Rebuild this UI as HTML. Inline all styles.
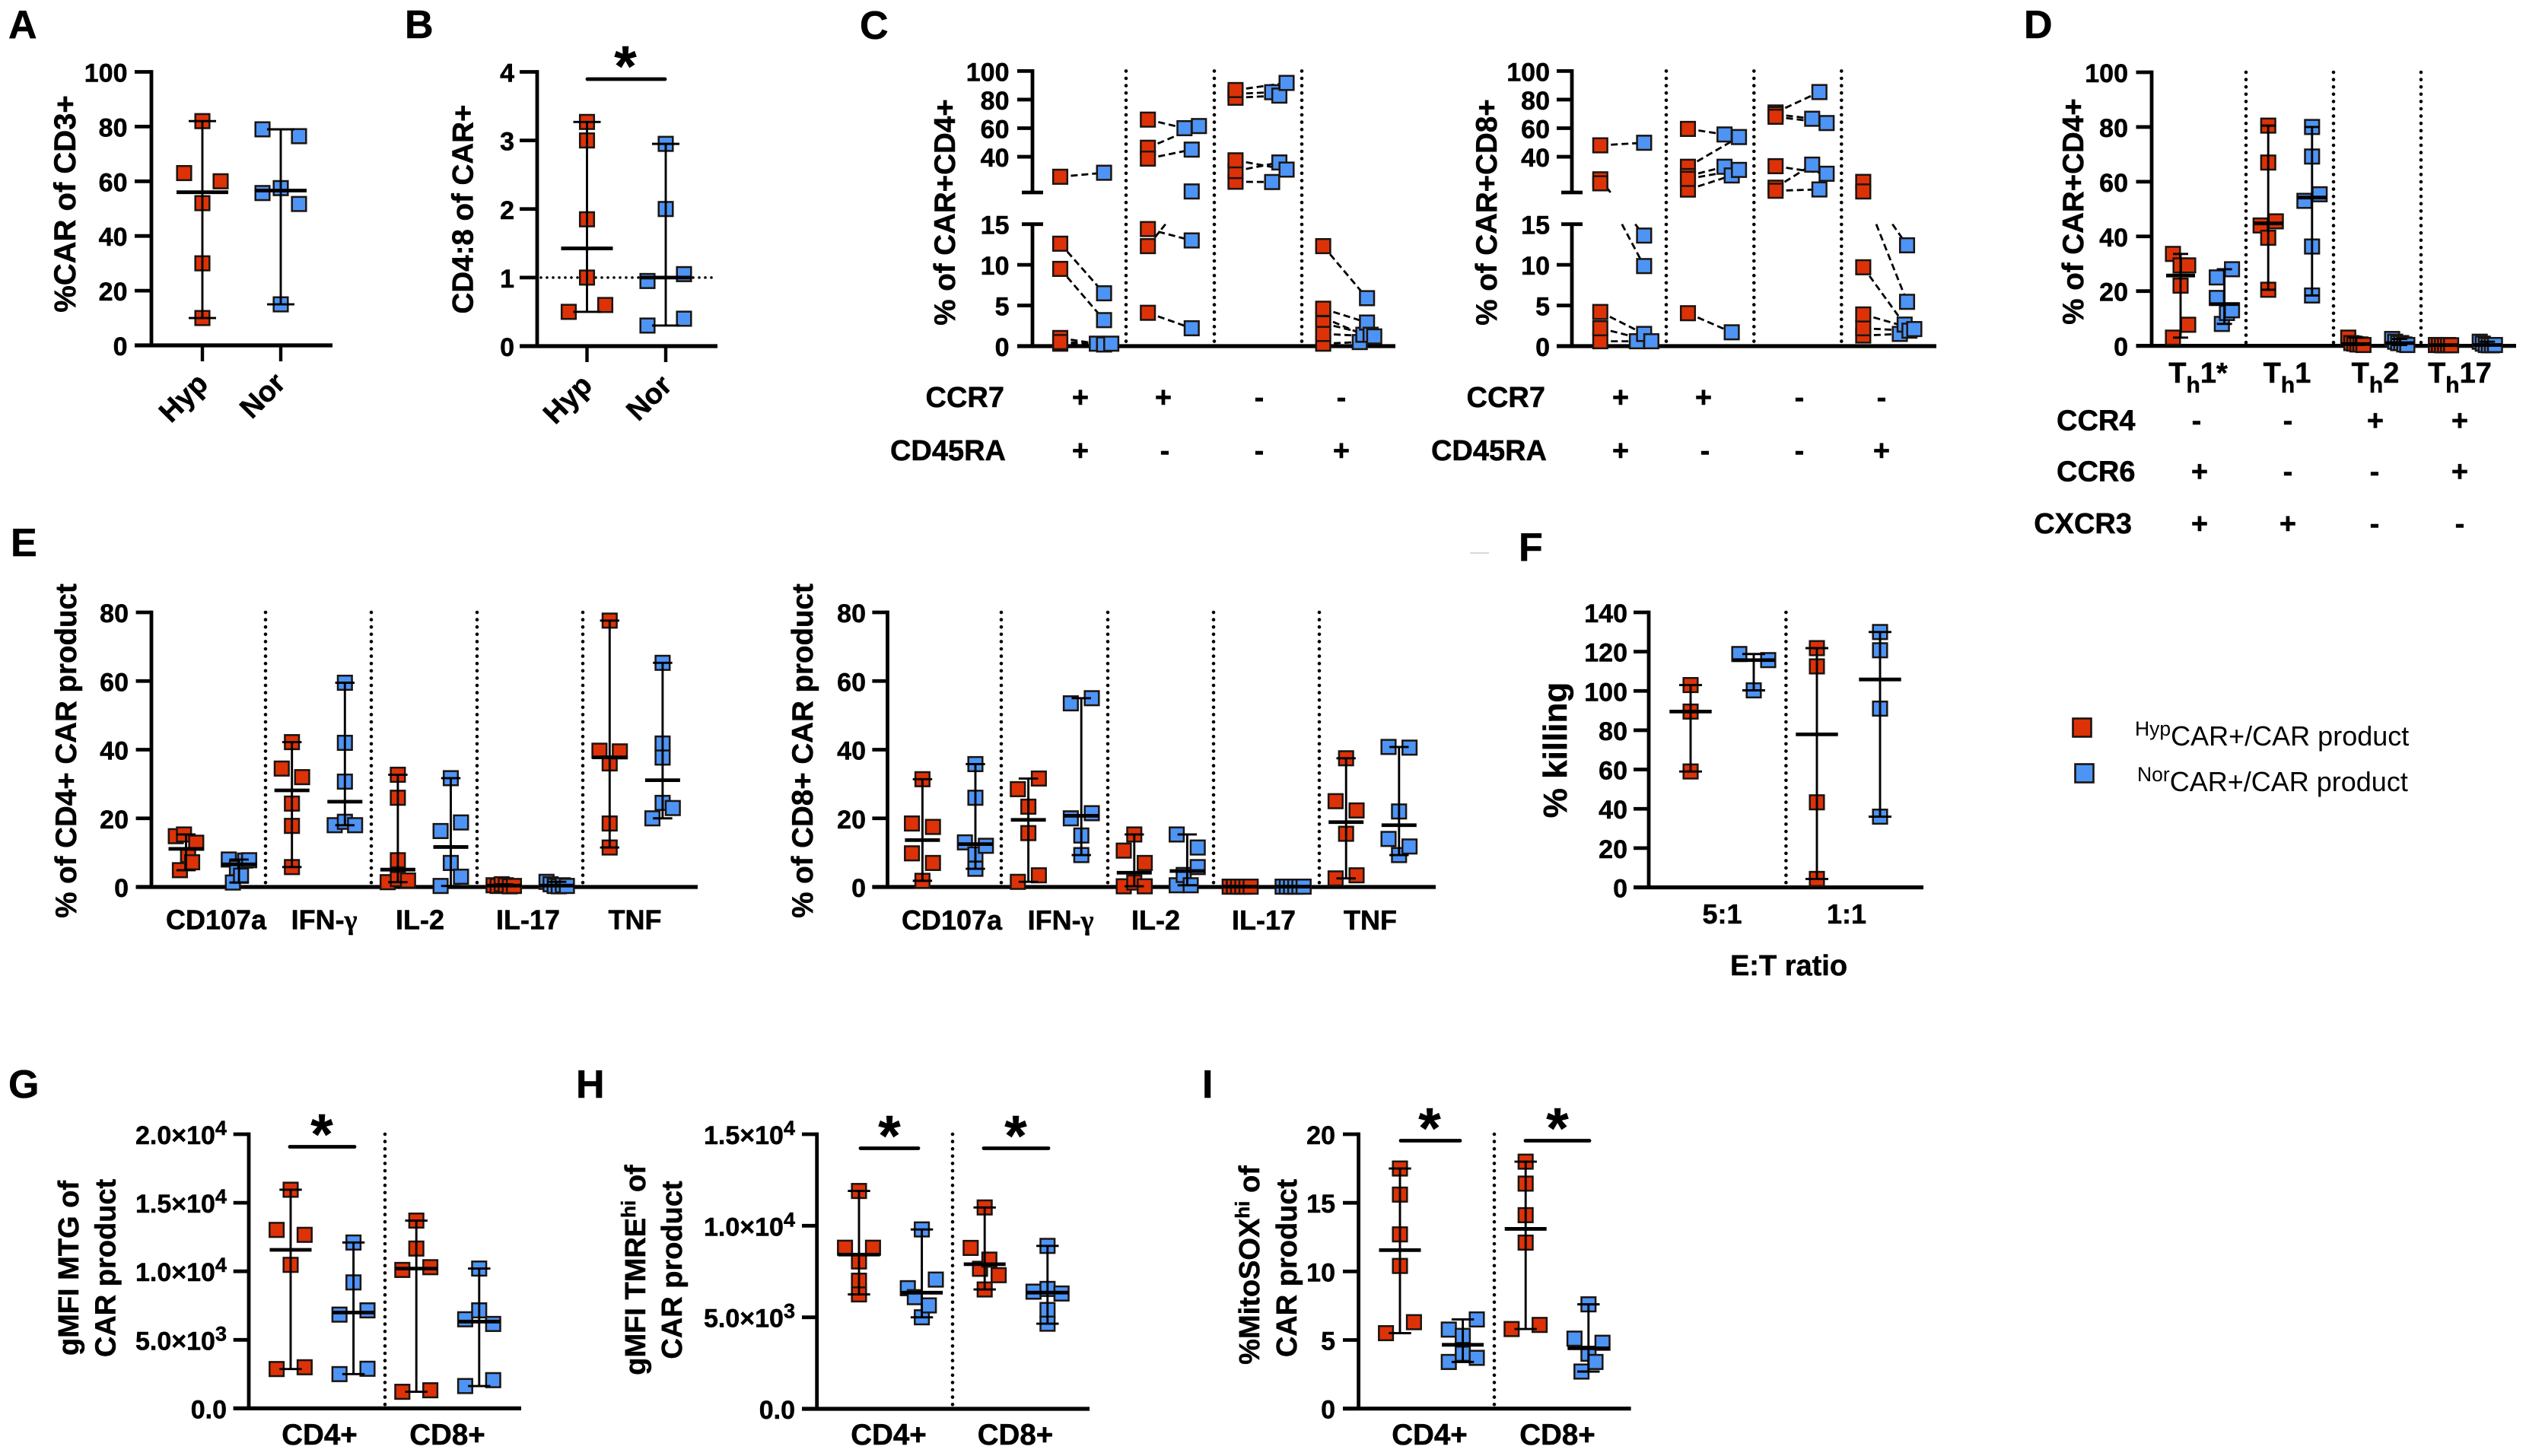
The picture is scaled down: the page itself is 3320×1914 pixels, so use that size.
<!DOCTYPE html>
<html lang="en">
<head>
<meta charset="utf-8">
<title>CAR T cell phenotype and function panels</title>
<style>
html,body{margin:0;padding:0;background:#fff;}
svg{display:block;}
text{font-family:"Liberation Sans",sans-serif;fill:#000;font-weight:700;stroke:#000;stroke-width:.5px;}
.letter{font-size:52px;}
.ytitle{font-size:38.5px;text-anchor:middle;}
.cat{font-size:36px;text-anchor:middle;}
.row{font-size:38px;text-anchor:end;}
.sym{font-size:38px;text-anchor:middle;}
.star{font-size:75px;text-anchor:middle;}
.sig{stroke:#000;stroke-width:4.8;stroke-linecap:round;}
.legend{font-weight:400;font-size:36px;stroke:none;}
.legend tspan.sup{font-size:26.5px;}
</style>
</head>
<body>
<svg id="figure" width="3320" height="1914" viewBox="0 0 3320 1914">
<rect x="0" y="0" width="3320" height="1914" fill="#fff"/>

<g id="panel-a">
<text class="letter" x="11" y="50">A</text>
<text class="ytitle" style="font-size:40px" transform="translate(99 268) rotate(-90)">%CAR of CD3+</text>
<text class="cat" style="font-size:38px" transform="translate(250 532) rotate(-45)">Hyp</text>
<text class="cat" style="font-size:38px" transform="translate(354 529) rotate(-45)">Nor</text>
</g>

<g id="panel-b">
<text class="letter" x="532" y="50">B</text>
<text class="ytitle" transform="translate(621.5 275) rotate(-90)">CD4:8 of CAR+</text>
<text class="cat" style="font-size:38px" transform="translate(755 534) rotate(-45)">Hyp</text>
<text class="cat" style="font-size:38px" transform="translate(862 532) rotate(-45)">Nor</text>
<line class="sig" x1="772" y1="104" x2="874" y2="104"/>
<text class="star" x="822" y="113">*</text>
</g>

<g id="panel-c1">
<text class="letter" x="1130" y="51">C</text>
<text class="ytitle" transform="translate(1255 279) rotate(-90)">% of CAR+CD4+</text>
<text class="row" x="1320" y="535">CCR7</text>
<text class="row" x="1322" y="605">CD45RA</text>
<text class="sym" x="1420" y="535">+</text>
<text class="sym" x="1529" y="535">+</text>
<text class="sym" x="1655" y="535">-</text>
<text class="sym" x="1763" y="535">-</text>
<text class="sym" x="1420" y="605">+</text>
<text class="sym" x="1531" y="605">-</text>
<text class="sym" x="1655" y="605">-</text>
<text class="sym" x="1763" y="605">+</text>
</g>

<g id="panel-c2">
<text class="ytitle" transform="translate(1967 279) rotate(-90)">% of CAR+CD8+</text>
<text class="row" x="2031" y="535">CCR7</text>
<text class="row" x="2033" y="605">CD45RA</text>
<text class="sym" x="2130" y="535">+</text>
<text class="sym" x="2239" y="535">+</text>
<text class="sym" x="2365" y="535">-</text>
<text class="sym" x="2473" y="535">-</text>
<text class="sym" x="2130" y="605">+</text>
<text class="sym" x="2241" y="605">-</text>
<text class="sym" x="2365" y="605">-</text>
<text class="sym" x="2473" y="605">+</text>
</g>

<g id="panel-d">
<text class="letter" x="2660" y="50">D</text>
<text class="ytitle" transform="translate(2738 278) rotate(-90)">% of CAR+CD4+</text>
<text class="sym" x="2889" y="503">T<tspan font-size="30" dy="13">h</tspan><tspan dy="-13">1*</tspan></text>
<text class="sym" x="3006" y="503">T<tspan font-size="30" dy="13">h</tspan><tspan dy="-13">1</tspan></text>
<text class="sym" x="3122" y="503">T<tspan font-size="30" dy="13">h</tspan><tspan dy="-13">2</tspan></text>
<text class="sym" x="3233" y="503">T<tspan font-size="30" dy="13">h</tspan><tspan dy="-13">17</tspan></text>
<text class="row" x="2806.5" y="565.5">CCR4</text>
<text class="row" x="2806.5" y="632.5">CCR6</text>
<text class="row" x="2802" y="701">CXCR3</text>
<text class="sym" x="2887" y="565.5">-</text>
<text class="sym" x="3007" y="565.5">-</text>
<text class="sym" x="3122" y="565.5">+</text>
<text class="sym" x="3233" y="565.5">+</text>
<text class="sym" x="2891" y="632.5">+</text>
<text class="sym" x="3007" y="632.5">-</text>
<text class="sym" x="3121" y="632.5">-</text>
<text class="sym" x="3233" y="632.5">+</text>
<text class="sym" x="2891" y="701">+</text>
<text class="sym" x="3007" y="701">+</text>
<text class="sym" x="3121" y="701">-</text>
<text class="sym" x="3233" y="701">-</text>
</g>

<g id="panel-e1">
<text class="letter" x="14" y="731">E</text>
<text class="ytitle" transform="translate(100 987) rotate(-90)">% of CD4+ CAR product</text>
<text class="cat" x="284" y="1221.5">CD107a</text>
<text class="cat" x="426" y="1221.5">IFN-<tspan style="font-family:'Liberation Serif',serif">γ</tspan></text>
<text class="cat" x="552" y="1221.5">IL-2</text>
<text class="cat" x="694" y="1221.5">IL-17</text>
<text class="cat" x="834.5" y="1221.5">TNF</text>
</g>

<g id="panel-e2">
<text class="ytitle" transform="translate(1068 987) rotate(-90)">% of CD8+ CAR product</text>
<text class="cat" x="1251" y="1222">CD107a</text>
<text class="cat" x="1394" y="1222">IFN-<tspan style="font-family:'Liberation Serif',serif">γ</tspan></text>
<text class="cat" x="1519" y="1222">IL-2</text>
<text class="cat" x="1661" y="1222">IL-17</text>
<text class="cat" x="1801" y="1222">TNF</text>
</g>

<g id="panel-f">
<line x1="1932" y1="727" x2="1957" y2="727" stroke="#ccc" stroke-width="1.5"/>
<text class="letter" x="1996" y="737">F</text>
<text class="ytitle" style="font-size:44px" transform="translate(2059 986) rotate(-90)">% killing</text>
<text class="cat" x="2263.5" y="1214">5:1</text>
<text class="cat" x="2427" y="1214">1:1</text>
<text class="cat" style="font-size:38px" x="2351" y="1282">E:T ratio</text>
</g>

<g id="legend">
<g>
<rect x="2724.5" y="944.5" width="24" height="24" fill="#dd3208" stroke="#1c1410" stroke-width="2.6"/>
<text class="legend" x="2806" y="980"><tspan class="sup" dy="-13" style="font-weight:400">Hyp</tspan><tspan dy="13" style="font-weight:400">CAR+/CAR product</tspan></text>
</g>
<g>
<rect x="2727.5" y="1004.5" width="24" height="24" fill="#4d94f5" stroke="#1c1410" stroke-width="2.6"/>
<text class="legend" x="2809" y="1040"><tspan class="sup" dy="-13" style="font-weight:400">Nor</tspan><tspan dy="13" style="font-weight:400">CAR+/CAR product</tspan></text>
</g>
</g>

<g id="panel-g">
<text class="letter" x="11" y="1443">G</text>
<text class="ytitle" style="font-size:38px" transform="translate(103 1667) rotate(-90)">gMFI MTG of</text>
<text class="ytitle" style="font-size:38px" transform="translate(151.5 1667) rotate(-90)">CAR product</text>
<text class="cat" style="font-size:38.5px" x="420" y="1899">CD4+</text>
<text class="cat" style="font-size:38.5px" x="588" y="1899">CD8+</text>
<line class="sig" x1="381" y1="1507.5" x2="466" y2="1507.5"/>
<text class="star" x="423" y="1517">*</text>
</g>

<g id="panel-h">
<text class="letter" x="757" y="1443">H</text>
<text class="ytitle" style="font-size:38px" transform="translate(848 1669.5) rotate(-90)">gMFI TMRE<tspan font-size="26" dy="-13">hi</tspan><tspan dy="13"> of</tspan></text>
<text class="ytitle" style="font-size:38px" transform="translate(896 1669.5) rotate(-90)">CAR product</text>
<text class="cat" style="font-size:38.5px" x="1168" y="1899">CD4+</text>
<text class="cat" style="font-size:38.5px" x="1334.5" y="1899">CD8+</text>
<line class="sig" x1="1131" y1="1509.5" x2="1207" y2="1509.5"/>
<text class="star" x="1169" y="1519">*</text>
<line class="sig" x1="1293" y1="1509.5" x2="1378" y2="1509.5"/>
<text class="star" x="1335" y="1519">*</text>
</g>

<g id="panel-i">
<text class="letter" x="1580" y="1443">I</text>
<text class="ytitle" style="font-size:38px" transform="translate(1655 1663) rotate(-90)">%MitoSOX<tspan font-size="26" dy="-13">hi</tspan><tspan dy="13"> of</tspan></text>
<text class="ytitle" style="font-size:38px" transform="translate(1704 1667) rotate(-90)">CAR product</text>
<text class="cat" style="font-size:38.5px" x="1879" y="1899">CD4+</text>
<text class="cat" style="font-size:38.5px" x="2047" y="1899">CD8+</text>
<line class="sig" x1="1841" y1="1499.5" x2="1919" y2="1499.5"/>
<text class="star" x="1879" y="1509">*</text>
<line class="sig" x1="2005" y1="1499.5" x2="2089" y2="1499.5"/>
<text class="star" x="2047" y="1509">*</text>
</g>
</svg>

<script>
// ---------- chart data ----------
const panelATicks = [0, 20, 40, 60, 80, 100];
const panelAHyp = [82, 63, 60, 52, 30, 10];
const panelANor = [79, 76.5, 55.7, 57.5, 51.7, 15];

const panelBTicks = [0, 1, 2, 3, 4];
const panelBHyp = [3.27, 3.0, 1.85, 1.0, 0.5, 0.6];
const panelBNor = [2.95, 2.0, 0.95, 1.05, 0.3, 0.4];
const panelBReference = 1;

const panelCTicks = [0, 5, 10, 15, 40, 60, 80, 100];
const panelCCd4Hyp = [[26, 12.6, 9.5, 1.0, 0.3, 0.5], [66, 46.3, 38.7, 14.4, 12.3, 4.1], [84, 81.3, 86.7, 22.5, 30, 37.5], [12.3, 0.3, 3.5, 4.6, 2.8, 1.5]];
const panelCCd4Nor = [[28.8, 6.5, 3.2, 0.3, 0.2, 0.3], [60, 61.5, 45, 13, 15.7, 2.2], [85.2, 82.8, 91.7, 22.3, 36, 31], [5.9, 0.5, 1.4, 2.9, 1.4, 1.2]];
const panelCCd8Hyp = [[48, 24.2, 21.4, 0.6, 4.2, 2.2], [59.5, 33, 26.5, 17, 24.5, 4.05], [71, 69.8, 68, 18.35, 33.4, 16.2], [22.4, 15.7, 1.3, 9.7, 2.2, 3.9]];
const panelCCd8Nor = [[49.8, 13.6, 9.85, 0.6, 1.5, 0.6], [55.6, 53.8, 33, 26.9, 30.8, 1.7], [85.3, 66.6, 63.6, 34.5, 28.1, 17.1], [12.4, 5.45, 1.5, 2.65, 1.9, 2.1]];

const panelDTicks = [0, 20, 40, 60, 80, 100];
const panelDHyp = [[33.6, 29.4, 29.4, 22, 3, 7.7], [80.5, 67, 44, 39.5, 45.5, 20.5], [3, 1, 0.8, 0.5, 0.5, 0.3], [0.3, 0.3, 0.2, 0.2, 0.3, 0.2]];
const panelDNor = [[25, 28, 17.5, 8, 12, 13], [80, 69.2, 53, 55.4, 36.3, 18.4], [2.5, 1.5, 1, 1, 0.5, 0.3], [1.5, 0.8, 0.3, 0.2, 0.2, 0.3]];

const panelETicks = [0, 20, 40, 60, 80];
const panelECd4Hyp = [[14.8, 4.9, 15.3, 9.3, 7.2, 12.9], [42.2, 34.5, 32, 24.3, 17.8, 5.8], [32.7, 26, 7.8, 1.4, 2.3, 1.9], [0.5, 0.3, 0.8, 0.5, 0.2, 0.3], [77.6, 39.7, 36, 39.5, 18.5, 11.5]];
const panelECd4Nor = [[8, 1.3, 5.5, 3.3, 7.7, 7.8], [59.5, 42, 30.7, 18, 19, 18], [31.7, 16.3, 18.8, 7, 0.3, 3], [1.5, 0.8, 0.3, 0.2, 0.5, 0.3], [65.3, 41.8, 37.7, 20, 24.5, 23]];
const panelECd8Hyp = [[31.4, 18.5, 17.5, 9.8, 7, 1.8], [28.5, 31.6, 23.4, 15.7, 1.5, 3.4], [15.3, 10.6, 7, 0.2, 1.3, 0.2], [0.1, 0.1, 0.1, 0.1, 0.1, 0.1], [37.5, 25, 22.3, 15.5, 2.5, 3.4]];
const panelECd8Nor = [[35.8, 26, 13, 9.5, 12, 5.3], [53.5, 55, 20, 21.5, 15, 9.3], [15.3, 11.5, 0.5, 3.5, 0.5, 5.8], [0.1, 0.1, 0.1, 0.1, 0.1, 0.1], [40.8, 40.6, 22, 14, 9.3, 11.8]];

const panelFTicks = [0, 20, 40, 60, 80, 100, 120, 140];
const panelFHyp = [[103, 89.5, 59], [121.8, 112.5, 43.3, 4.3]];
const panelFNor = [[118.8, 115.7, 100.3], [130, 120.7, 91, 36]];

const panelGTicks = [0, 5000, 10000, 15000, 20000];
const panelGTickLabels = ['0.0', '5.0×10^3', '1.0×10^4', '1.5×10^4', '2.0×10^4'];
const panelGHyp = [[15950, 13020, 12660, 10470, 2870, 3000], [13700, 11660, 10100, 10300, 1210, 1320]];
const panelGNor = [[12100, 9190, 6840, 7150, 2500, 2890], [10200, 6500, 7150, 6160, 1630, 2060]];

const panelHTicks = [0, 5000, 10000, 15000];
const panelHTickLabels = ['0.0', '5.0×10^3', '1.0×10^4', '1.5×10^4'];
const panelHHyp = [[11900, 8800, 8800, 8050, 7000, 6250], [11000, 8790, 7650, 8150, 7300, 6520]];
const panelHNor = [[9800, 6590, 6100, 5000, 5650, 7060], [8900, 6400, 6550, 6300, 5400, 4650]];

const panelITicks = [0, 5, 10, 15, 20];
const panelIHyp = [[17.5, 15.6, 12.7, 10.4, 5.5, 6.3], [18, 16.4, 14.1, 12.1, 5.8, 6.1]];
const panelINor = [[5.76, 5.3, 6.5, 3.4, 4, 3.7], [7.6, 5.1, 2.7, 4, 3.4, 4.8]];

// ---------- helpers ----------
const RED = '#dd3208';
const BLUE = '#4d94f5';
const INK = '#1c1410';
const SVG_NS = document.getElementById('figure').namespaceURI;

function make(tag, attrs, parent) {
  const node = document.createElementNS(SVG_NS, tag);
  Object.keys(attrs).forEach(function (k) { node.setAttribute(k, attrs[k]); });
  parent.appendChild(node);
  return node;
}
function linearScale(d0, r0, d1, r1) {
  return function (v) { return r0 + (v - d0) * (r1 - r0) / (d1 - d0); };
}
function brokenScale(y0, y15low, y15high, y100) {
  const low = linearScale(0, y0, 15, y15low);
  const high = linearScale(15, y15high, 100, y100);
  return function (v) { return v <= 15 ? low(v) : high(v); };
}
function median(values) {
  const s = values.slice().sort(function (a, b) { return a - b; });
  const m = Math.floor(s.length / 2);
  return s.length % 2 ? s[m] : (s[m - 1] + s[m]) / 2;
}
// Swarm layout: values closer than a marker height share a cluster and fan out in data order.
function swarmSlots(values, y) {
  const order = values.map(function (v, i) { return i; }).sort(function (a, b) { return y(values[a]) - y(values[b]); });
  const slots = values.map(function () { return 0; });
  let cluster = [];
  function flush() {
    const members = cluster.slice().sort(function (a, b) { return a - b; });
    if (members.length > 1) {
      members.forEach(function (idx, k) { slots[idx] = -1 + 2 * k / (members.length - 1); });
    }
    cluster = [];
  }
  order.forEach(function (idx, pos) {
    if (pos > 0 && y(values[idx]) - y(values[order[pos - 1]]) > 17.5) { flush(); }
    cluster.push(idx);
  });
  flush();
  return slots;
}
function drawYAxis(g, x0, y, topValue, tickValues, tickLabels, tickLeft, labelRight, bottomValue) {
  const axis = make('line', { x1: x0, x2: x0, y1: y(topValue) - 2.4, y2: y(bottomValue || 0), stroke: '#000', 'stroke-width': 4.8 }, g);
  
  
  tickValues.forEach(function (v, i) {
    const tick = make('line', { x1: tickLeft, x2: x0, y1: y(v), y2: y(v), stroke: '#000', 'stroke-width': 4.8 }, g);
    
    
    const parts = String(tickLabels[i]).split('^');
    const label = make('text', { x: labelRight, y: y(v) + 13, 'text-anchor': 'end', 'font-size': 34 }, g);
    
    
    label.textContent = parts[0];
    if (parts[1]) {
      const sup = make('tspan', { 'font-size': 27, dy: -12 }, label);
      sup.textContent = parts[1];
    }
  });
}
function drawXAxis(g, left, right, yPos) {
  const axis = make('line', { x1: left, x2: right, y1: yPos, y2: yPos, stroke: '#000', 'stroke-width': 5.2 }, g);
  
  
}
function drawXTick(g, x, y1, y2) {
  const tick = make('line', { x1: x, x2: x, y1: y1, y2: y2, stroke: '#000', 'stroke-width': 4.4 }, g);
  
  
}
function drawDivider(g, x, y1, y2) {
  const line = make('line', { x1: x, x2: x, y1: y1, y2: y2, stroke: '#000', 'stroke-width': 4.6, 'stroke-linecap': 'round', 'stroke-dasharray': '0 9.6' }, g);
  
  
}
function drawMarker(g, cx, cy, fill, name) {
  const m = make('rect', { x: cx - 9.3, y: cy - 9.3, width: 18.6, height: 18.6, fill: fill, stroke: INK, 'stroke-width': 2.5 }, g);
  
  
}
function drawColumn(g, values, cx, y, fill, name, spread, capHalf, medHalf) {
  const slots = swarmSlots(values, y);
  values.forEach(function (v, i) { drawMarker(g, cx + slots[i] * spread, y(v), fill, name + '-marker'); });
  const lo = Math.min.apply(null, values);
  const hi = Math.max.apply(null, values);
  const med = median(values);
  const whisker = make('line', { x1: cx, x2: cx, y1: y(hi), y2: y(lo), stroke: '#000', 'stroke-width': 2.9 }, g);
  
  
  [lo, hi].forEach(function (v) {
    const cap = make('line', { x1: cx - capHalf, x2: cx + capHalf, y1: y(v), y2: y(v), stroke: '#000', 'stroke-width': 2.9 }, g);
    
    
  });
  const medLine = make('line', { x1: cx - medHalf, x2: cx + medHalf, y1: y(med), y2: y(med), stroke: '#000', 'stroke-width': 4.8 }, g);
  
  
}
function drawGroups(g, hyp, nor, firstX, colStep, y, spread, capHalf, medHalf) {
  hyp.forEach(function (values, i) {
    drawColumn(g, values, firstX + i * 2 * colStep, y, RED, 'hyp', spread, capHalf, medHalf);
    drawColumn(g, nor[i], firstX + (i * 2 + 1) * colStep, y, BLUE, 'nor', spread, capHalf, medHalf);
  });
}
function clipPiece(x1, y1, x2, y2, yMin, yMax) {
  const t0 = y1 === y2 ? 0 : (yMin - y1) / (y2 - y1);
  const t1 = y1 === y2 ? 1 : (yMax - y1) / (y2 - y1);
  const a = Math.max(0, Math.min(t0, t1));
  const b = Math.min(1, Math.max(t0, t1));
  if (y1 === y2 && (y1 < yMin || y1 > yMax)) { return null; }
  if (a >= b) { return null; }
  return [x1 + (x2 - x1) * a, y1 + (y2 - y1) * a, x1 + (x2 - x1) * b, y1 + (y2 - y1) * b];
}
function drawPairedGroups(g, hyp, nor, firstX, colStep, y, spread, gapTop, gapBottom) {
  hyp.forEach(function (values, i) {
    const hx = firstX + i * 2 * colStep;
    const nx = hx + colStep;
    const slots = swarmSlots(nor[i], y);
    values.forEach(function (v, k) {
      [[0, gapTop], [gapBottom, 2000]].forEach(function (band) {
        const p = clipPiece(hx, y(v), nx + slots[k] * spread, y(nor[i][k]), band[0], band[1]);
        if (p) {
          const link = make('line', { x1: p[0], y1: p[1], x2: p[2], y2: p[3], stroke: '#000', 'stroke-width': 2.8, 'stroke-dasharray': '9 5' }, g);
          
          
        }
      });
    });
    values.forEach(function (v) { drawMarker(g, hx, y(v), RED, 'hyp-marker'); });
    nor[i].forEach(function (v, k) { drawMarker(g, nx + slots[k] * spread, y(v), BLUE, 'nor-marker'); });
  });
}
function drawBrokenAxis(g, x0, y, tickValues, tickLeft, labelRight, gapTop, gapBottom, y0) {
  const upper = make('line', { x1: x0, x2: x0, y1: y(100) - 2.4, y2: gapTop, stroke: '#000', 'stroke-width': 4.8 }, g);
  
  
  const lower = make('line', { x1: x0, x2: x0, y1: gapBottom, y2: y0, stroke: '#000', 'stroke-width': 4.8 }, g);
  
  
  [gapTop, gapBottom].forEach(function (py) {
    const brk = make('line', { x1: x0 - 14, x2: x0 + 14, y1: py, y2: py, stroke: '#000', 'stroke-width': 4.8 }, g);
    
    
  });
  tickValues.forEach(function (v) {
    if (v !== 15) {
      const tick = make('line', { x1: tickLeft, x2: x0, y1: y(v), y2: y(v), stroke: '#000', 'stroke-width': 4.8 }, g);
      
      
    }
    const label = make('text', { x: labelRight, y: y(v) + 13, 'text-anchor': 'end', 'font-size': 34 }, g);
    
    
    label.textContent = v;
  });
}

// ---------- panels ----------
(function panelA() {
  const g = document.getElementById('panel-a');
  const y = linearScale(0, 454, 100, 94.5);
  drawYAxis(g, 199, y, 100, panelATicks, panelATicks, 177, 167.5);
  drawXAxis(g, 177, 437, y(0));
  drawXTick(g, 266, y(0), 475);
  drawXTick(g, 369, y(0), 475);
  drawColumn(g, panelAHyp, 266, y, RED, 'hyp', 24, 18, 34);
  drawColumn(g, panelANor, 369, y, BLUE, 'nor', 24, 18, 34);
})();

(function panelB() {
  const g = document.getElementById('panel-b');
  const y = linearScale(0, 455, 4, 94.5);
  drawYAxis(g, 706, y, 4, panelBTicks, panelBTicks, 683, 676);
  drawXAxis(g, 683, 943, y(0));
  drawXTick(g, 771.5, y(0), 476);
  drawXTick(g, 875, y(0), 476);
  const ref = make('line', { x1: 711, x2: 938, y1: y(panelBReference), y2: y(panelBReference), stroke: '#000', 'stroke-width': 3.6, 'stroke-linecap': 'round', 'stroke-dasharray': '0 8' }, g);
  
  
  drawColumn(g, panelBHyp, 771.5, y, RED, 'hyp', 24, 18, 34);
  drawColumn(g, panelBNor, 875, y, BLUE, 'nor', 24, 18, 34);
})();

(function panelC() {
  const g1 = document.getElementById('panel-c1');
  const g2 = document.getElementById('panel-c2');
  const y = brokenScale(455, 294.7, 253, 93.4);
  [1480, 1596, 1711].forEach(function (x) { drawDivider(g1, x, 93.4, 455); });
  [2190, 2305.3, 2420.3].forEach(function (x) { drawDivider(g2, x, 93.4, 455); });
  drawBrokenAxis(g1, 1357, y, panelCTicks, 1337, 1326.5, 253, 294.7, 455);
  drawXAxis(g1, 1337, 1834, 455);
  drawPairedGroups(g1, panelCCd4Hyp, panelCCd4Nor, 1393.5, 57.6, y, 9.5, 253, 294.7);
  drawBrokenAxis(g2, 2066, y, panelCTicks, 2046, 2037, 253, 294.7, 455);
  drawXAxis(g2, 2046, 2545, 455);
  drawPairedGroups(g2, panelCCd8Hyp, panelCCd8Nor, 2103.3, 57.6, y, 9.5, 253, 294.7);
})();

(function panelD() {
  const g = document.getElementById('panel-d');
  const y = linearScale(0, 454.6, 100, 95);
  [2952, 3067, 3182].forEach(function (x) { drawDivider(g, x, 95, 454.6); });
  drawYAxis(g, 2828, y, 100, panelDTicks, panelDTicks, 2807.5, 2797);
  drawXAxis(g, 2807.5, 3307, y(0));
  drawGroups(g, panelDHyp, panelDNor, 2866, 57.6, y, 10, 10, 19);
})();

(function panelE() {
  const g1 = document.getElementById('panel-e1');
  const g2 = document.getElementById('panel-e2');
  const y = linearScale(0, 1166, 80, 805);
  [349, 488, 627, 766].forEach(function (x) { drawDivider(g1, x, 805, 1166); });
  drawYAxis(g1, 199, y, 80, panelETicks, panelETicks, 178.6, 169);
  drawXAxis(g1, 178.6, 917, y(0));
  drawGroups(g1, panelECd4Hyp, panelECd4Nor, 244.5, 69.6, y, 13.4, 12.7, 23);
  [1316, 1456, 1595, 1734].forEach(function (x) { drawDivider(g2, x, 805, 1166); });
  drawYAxis(g2, 1166.5, y, 80, panelETicks, panelETicks, 1146.4, 1138);
  drawXAxis(g2, 1146.4, 1887, y(0));
  drawGroups(g2, panelECd8Hyp, panelECd8Nor, 1212.4, 69.6, y, 13.8, 12.7, 23);
})();

(function panelF() {
  const g = document.getElementById('panel-f');
  const y = linearScale(0, 1166.5, 140, 805);
  drawDivider(g, 2347.4, 805, 1166.5);
  drawYAxis(g, 2167, y, 140, panelFTicks, panelFTicks, 2147, 2139);
  drawXAxis(g, 2147, 2528, y(0));
  drawGroups(g, panelFHyp, panelFNor, 2222, 83, y, 19, 15, 27.7);
})();

(function panelG() {
  const g = document.getElementById('panel-g');
  const y = linearScale(0, 1851.4, 20000, 1491);
  drawDivider(g, 506, 1491, 1851.4);
  drawYAxis(g, 327, y, 20000, panelGTicks, panelGTickLabels, 306.7, 298);
  drawXAxis(g, 306.7, 685, y(0));
  drawGroups(g, panelGHyp, panelGNor, 382, 82.6, y, 18.4, 14.7, 27.5);
})();

(function panelH() {
  const g = document.getElementById('panel-h');
  const y = linearScale(0, 1852, 15000, 1491);
  drawDivider(g, 1252, 1491, 1852);
  drawYAxis(g, 1073.7, y, 15000, panelHTicks, panelHTickLabels, 1054, 1045);
  drawXAxis(g, 1054, 1432, y(0));
  drawGroups(g, panelHHyp, panelHNor, 1129, 82.6, y, 18.4, 14.7, 27.5);
})();

(function panelI() {
  const g = document.getElementById('panel-i');
  const y = linearScale(0, 1851.7, 20, 1491);
  drawDivider(g, 1964, 1491, 1851.7);
  drawYAxis(g, 1785.6, y, 20, panelITicks, panelITicks, 1765, 1755);
  drawXAxis(g, 1765, 2143.6, y(0));
  drawGroups(g, panelIHyp, panelINor, 1840, 82.6, y, 18.4, 14.7, 27.5);
})();
</script>
</body>
</html>
